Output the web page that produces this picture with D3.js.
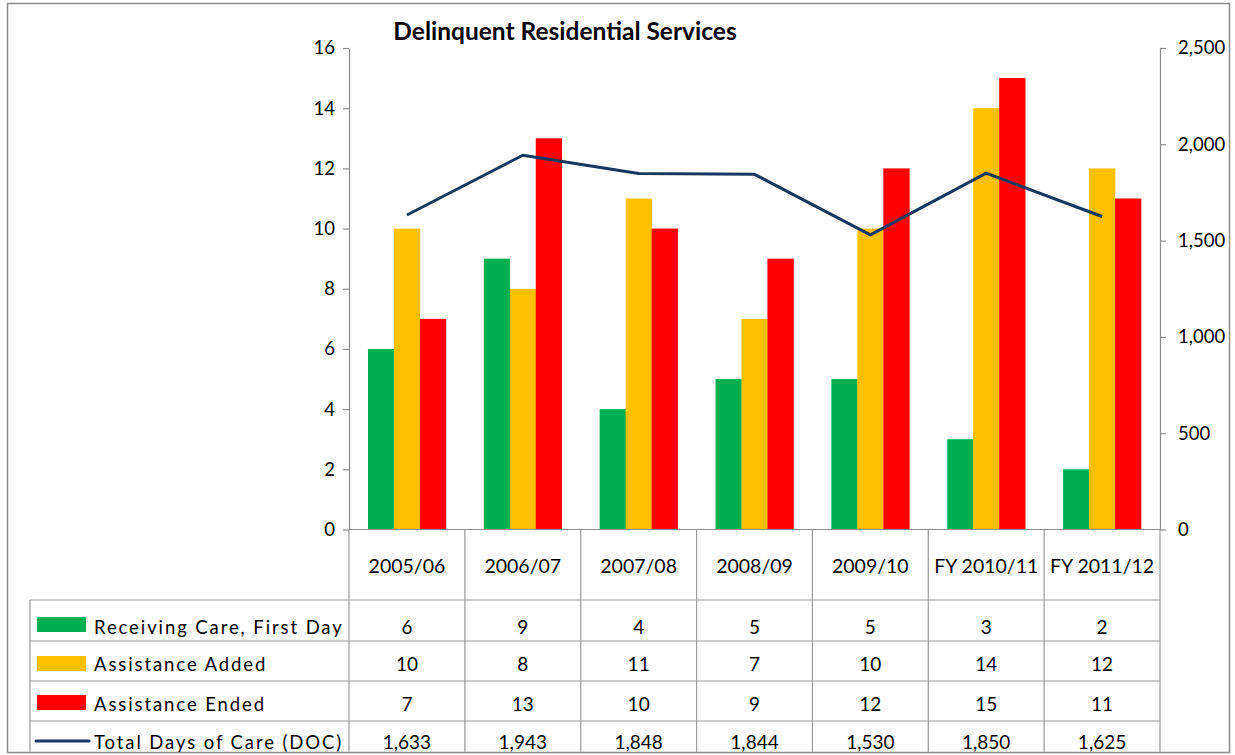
<!DOCTYPE html>
<html><head><meta charset="utf-8">
<script src="https://cdn.jsdelivr.net/npm/d3@7"></script>
<style>body{margin:0;background:#fff}svg{display:block}text{font-family:Lato,"Open Sans",sans-serif;fill:#000}</style>
</head><body>
<svg id="c" width="1235" height="755"></svg>
<script>
const categories = ["2005/06","2006/07","2007/08","2008/09","2009/10","FY 2010/11","FY 2011/12"];
const receivingCare = [6,9,4,5,5,3,2];
const assistanceAdded = [10,8,11,7,10,14,12];
const assistanceEnded = [7,13,10,9,12,15,11];
const totalDays = [1633,1943,1848,1844,1530,1850,1625];
const leftTicks = [0,2,4,6,8,10,12,14,16];
const rightTicks = [0,500,1000,1500,2000,2500];
const seriesNames = ["Receiving Care, First Day","Assistance Added","Assistance Ended"];
const lineName = "Total Days of Care (DOC)";
const colors = ["#00B050","#FFC000","#FF0000"];
const lineColor = "#17375E";
const title = "Delinquent Residential Services";

const barData = [receivingCare, assistanceAdded, assistanceEnded];
const svg = d3.select("#c");
const L=349, R=1160, T=48, B=529.5;
const grid="#9a9a9a";

// outer border
svg.append("rect").attr("x",7.5).attr("y",3.5).attr("width",1222).attr("height",749).attr("fill","none").attr("stroke","#8c8c8c").attr("stroke-width",1.5);

const x0 = d3.scaleBand().domain(categories).range([L,R]).padding(0);
const x1 = d3.scaleBand().domain(seriesNames).range([0,x0.bandwidth()]).paddingInner(0).paddingOuter(0.73);
const yL = d3.scaleLinear().domain([0,16]).range([B,T]);
const yR = d3.scaleLinear().domain([0,2500]).range([B,T]);

// title
svg.append("text").attr("x",565).attr("y",40).attr("text-anchor","middle").attr("font-weight","bold").attr("font-size",24.5).text(title);

// bars
categories.forEach((c,i)=>{
  seriesNames.forEach((s,j)=>{
    svg.append("rect").attr("x",x0(c)+x1(s)).attr("width",x1.bandwidth()+0.3)
      .attr("y",yL(barData[j][i])).attr("height",yL(0)-yL(barData[j][i])).attr("fill",colors[j]);
  });
});

// axes
const ax = svg.append("g").attr("transform",`translate(${L},0)`).call(d3.axisLeft(yL).tickValues(leftTicks).tickSize(6).tickPadding(8).tickSizeOuter(0));
const axR = svg.append("g").attr("transform",`translate(${R},0)`).call(d3.axisRight(yR).tickValues(rightTicks).tickFormat(d3.format(",")).tickSize(6).tickPadding(12).tickSizeOuter(0));
[ax,axR].forEach(g=>{
  g.selectAll("path,line").attr("stroke","#8c8c8c").attr("stroke-width",1.2);
  g.selectAll("text").attr("font-size",18.5).attr("font-family","Lato,sans-serif").attr("fill","#000");
});
svg.append("line").attr("x1",L).attr("x2",R).attr("y1",B).attr("y2",B).attr("stroke","#8c8c8c").attr("stroke-width",1.2);

// line
const line = d3.line().x((d,i)=>x0(categories[i])+x0.bandwidth()/2).y(d=>yR(d));
svg.append("path").datum(totalDays).attr("d",line).attr("fill","none").attr("stroke",lineColor).attr("stroke-width",3).attr("stroke-linejoin","round");

// data table
const TL = 30;
const g = svg.append("g");
x0.domain().forEach(c=>{
  g.append("line").attr("x1",x0(c)).attr("x2",x0(c)).attr("y1",B).attr("y2",752).attr("stroke",grid).attr("stroke-width",1.2);
});
g.append("line").attr("x1",R).attr("x2",R).attr("y1",B).attr("y2",752).attr("stroke",grid).attr("stroke-width",1.2);
g.append("line").attr("x1",TL).attr("x2",TL).attr("y1",600).attr("y2",752).attr("stroke",grid).attr("stroke-width",1.2);
[600,641,681,721].forEach(y=>{
  g.append("line").attr("x1",TL).attr("x2",R).attr("y1",y).attr("y2",y).attr("stroke",grid).attr("stroke-width",1.2);
});
categories.forEach(c=>{
  g.append("text").attr("x",x0(c)+x0.bandwidth()/2).attr("y",573).attr("text-anchor","middle").attr("font-size",19.5).text(c);
});
const tableVals = [receivingCare, assistanceAdded, assistanceEnded, totalDays];
const baselines = [634,671,711,749];
const fmt = d3.format(",");
tableVals.forEach((arr,r)=>{
  arr.forEach((v,i)=>{
    g.append("text").attr("x",x0(categories[i])+x0.bandwidth()/2).attr("y",baselines[r]).attr("text-anchor","middle").attr("font-size",19).text(fmt(v));
  });
});
seriesNames.forEach((s,j)=>{
  g.append("rect").attr("x",37).attr("y",[617,656,695][j]).attr("width",49).attr("height",15).attr("fill",colors[j]);
  g.append("text").attr("x",94).attr("y",baselines[j]).attr("font-size",18.5).attr("letter-spacing",1.9).text(s);
});
g.append("line").attr("x1",36).attr("x2",89).attr("y1",741).attr("y2",741).attr("stroke",lineColor).attr("stroke-width",3).attr("stroke-linecap","round");
g.append("text").attr("x",94).attr("y",baselines[3]).attr("font-size",18.5).attr("letter-spacing",1.9).text(lineName);
</script>
</body></html>
